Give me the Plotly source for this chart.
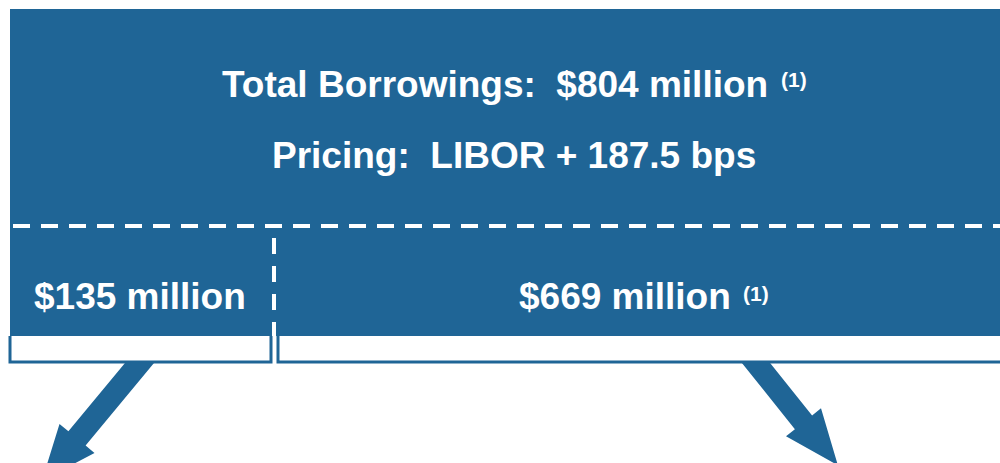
import math
import plotly.graph_objects as go

# ---- data ----
total_borrowings_mm = 804
total_footnote = "(1)"
libor_spread_bps = 187.5
tranche_amounts_mm = [135, 669]
tranche_footnotes = ["", "(1)"]

BLUE = "#1F6596"
WHITE = "#FFFFFF"
FONT = "Liberation Sans, Arial, sans-serif"

W, H = 1000, 463
fig = go.Figure()

shapes = []
# main block
shapes.append(dict(type="rect", x0=10, x1=1010, y0=9, y1=336,
                   fillcolor=BLUE, line=dict(width=0), layer="below"))
# dashed separators
shapes.append(dict(type="line", x0=13, x1=1005, y0=226, y1=226,
                   line=dict(color=WHITE, width=4, dash="17px,11px")))
shapes.append(dict(type="line", x0=274, x1=274, y0=238, y1=363,
                   line=dict(color=WHITE, width=4, dash="16px,12px")))
# brackets
shapes.append(dict(type="path", path="M 10,336 L 10,362 L 271,362 L 271,336",
                   line=dict(color=BLUE, width=3)))
shapes.append(dict(type="path", path="M 278,336 L 278,362 L 1010,362 L 1010,336",
                   line=dict(color=BLUE, width=3)))


def arrow_path(cx, top_y, dx, dy, shaft_len, hw, head_hw, head_len):
    L = math.hypot(dx, dy)
    dx, dy = dx / L, dy / L
    nx, ny = -dy, dx
    bx = cx + dx * shaft_len
    by = top_y + dy * shaft_len
    sax, say = bx + nx * hw, by + ny * hw
    t = (say - top_y) / dy
    ta = (sax - dx * t, top_y)
    sbx, sby = bx - nx * hw, by - ny * hw
    t = (sby - top_y) / dy
    tb = (sbx - dx * t, top_y)
    wa = (bx + nx * head_hw, by + ny * head_hw)
    wb = (bx - nx * head_hw, by - ny * head_hw)
    tip = (bx + dx * head_len, by + dy * head_len)
    pts = [ta, (sax, say), wa, tip, wb, (sbx, sby), tb]
    return "M " + " L ".join(f"{x:.1f},{y:.1f}" for x, y in pts) + " Z"


shapes.append(dict(type="path",
                   path=arrow_path(139.5, 363, -0.638, 0.770, 98, 11.2, 22.7, 55),
                   fillcolor=BLUE, line=dict(width=0)))
shapes.append(dict(type="path",
                   path=arrow_path(756, 363, 0.625, 0.781, 76, 11, 22.4, 55),
                   fillcolor=BLUE, line=dict(width=0)))

annotations = []


def txt(x, y, s, size, anchor="center"):
    annotations.append(dict(x=x, y=y, text=s, showarrow=False, xanchor=anchor,
                            yanchor="middle", borderpad=0,
                            font=dict(family=FONT, size=size, color=WHITE)))


NB = "\u00a0"
txt(495, 84, f"<b>Total Borrowings:{NB}{NB}${total_borrowings_mm} million</b>", 37)
txt(794, 79, f"<b>{total_footnote}</b>", 21)
spread_txt = f"{libor_spread_bps:g}"
txt(513.5, 155, f"<b>Pricing:{NB}{NB}LIBOR + {spread_txt} bps</b>", 37)

tranche_centers = [139.5, 625]
sup_centers = [None, 756]
for amt, fn, c, sc in zip(tranche_amounts_mm, tranche_footnotes, tranche_centers, sup_centers):
    txt(c, 296.5, f"<b>${amt} million</b>", 37)
    if fn:
        txt(sc, 293, f"<b>{fn}</b>", 21)

fig.update_layout(
    width=W, height=H,
    margin=dict(l=0, r=0, t=0, b=0),
    paper_bgcolor=WHITE, plot_bgcolor=WHITE,
    xaxis=dict(range=[0, W], visible=False, fixedrange=True),
    yaxis=dict(range=[H, 0], visible=False, fixedrange=True),
    shapes=shapes, annotations=annotations,
    showlegend=False,
)
fig.write_html("out.html", config={"displayModeBar": False},
               post_script="document.body.style.margin='0';document.body.style.overflow='hidden';")
